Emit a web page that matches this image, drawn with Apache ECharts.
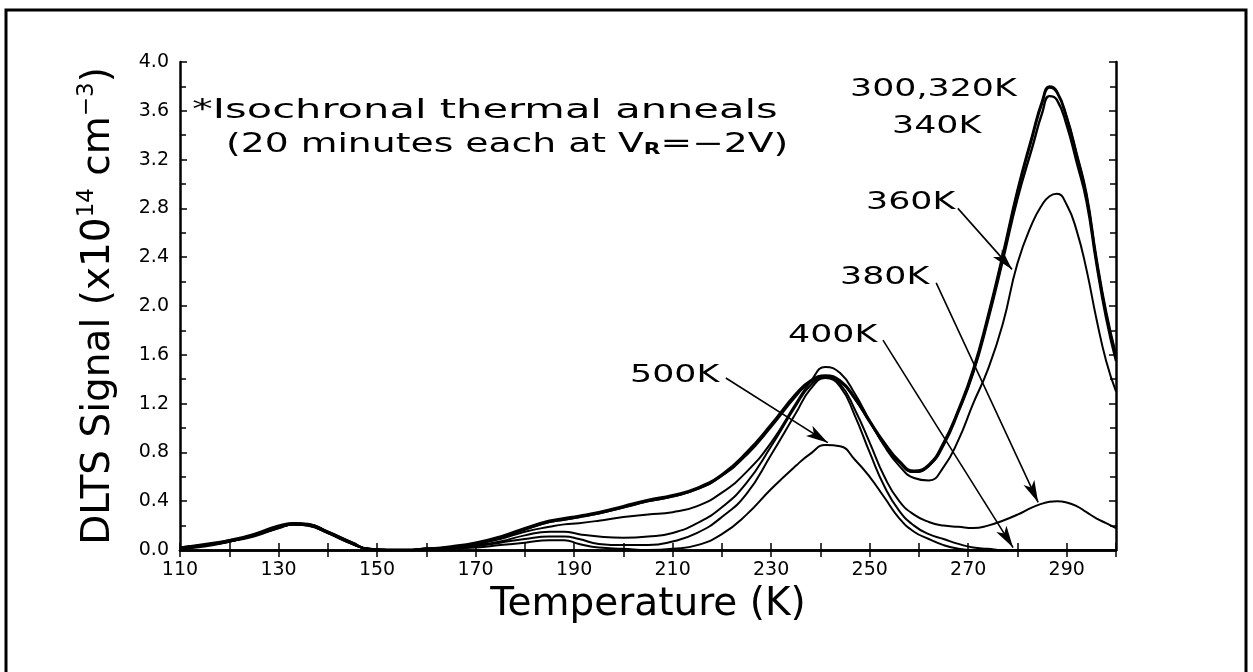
<!DOCTYPE html>
<html>
<head>
<meta charset="utf-8">
<script src="https://cdn.jsdelivr.net/npm/echarts/dist/echarts.min.js"></script>
<style>
html,body{margin:0;padding:0;background:#fff;}
#chart{width:1253px;height:672px;}
</style>
</head>
<body>
<div id="chart"></div>
<script>
// Temperature grid (K)
var temps = [110,115,120,125,130,133,136,140,145,148,152,156,160,165,
  170,175,180,185,188,191,195,200,205,210,215,220,225,230,235,238,241,244,247,250,
  253,256,259,262,265,268,271,274,277,280,283,285,286.5,288,290,292,294,296,298,300];

// DLTS signal (x10^14 cm^-3) for each anneal temperature
var s300 = [0.02,0.04,0.08,0.13,0.20,0.22,0.21,0.15,0.06,0.01,0,0,0.01,0.03,
  0.06,0.11,0.18,0.24,0.26,0.28,0.31,0.36,0.41,0.45,0.51,0.62,0.80,1.03,1.28,1.39,1.43,1.39,1.25,1.06,
  0.88,0.73,0.65,0.70,0.88,1.15,1.48,1.92,2.42,2.95,3.40,3.68,3.80,3.76,3.55,3.25,2.92,2.40,1.95,1.60];
var s320 = [0.02,0.04,0.07,0.12,0.19,0.215,0.205,0.14,0.05,0.01,0,0,0.01,0.02,
  0.05,0.10,0.17,0.23,0.25,0.27,0.30,0.35,0.40,0.44,0.50,0.61,0.79,1.02,1.27,1.38,1.42,1.38,1.24,1.05,
  0.87,0.72,0.64,0.69,0.87,1.14,1.46,1.90,2.40,2.93,3.38,3.66,3.79,3.75,3.54,3.24,2.90,2.38,1.93,1.58];
var s340 = [0.01,0.03,0.07,0.12,0.18,0.21,0.20,0.14,0.05,0.01,0,0,0.01,0.02,
  0.05,0.10,0.17,0.23,0.25,0.27,0.30,0.35,0.40,0.44,0.50,0.61,0.78,1.01,1.26,1.38,1.42,1.38,1.24,1.05,
  0.87,0.72,0.64,0.69,0.86,1.13,1.45,1.88,2.37,2.88,3.30,3.58,3.72,3.69,3.48,3.18,2.86,2.35,1.90,1.55];
var s360 = [0.02,0.04,0.07,0.11,0.18,0.21,0.21,0.15,0.06,0.01,0,0,0.01,0.02,
  0.05,0.09,0.15,0.19,0.21,0.22,0.24,0.27,0.29,0.31,0.36,0.47,0.64,0.88,1.20,1.38,1.50,1.45,1.28,1.06,
  0.85,0.69,0.59,0.57,0.68,0.90,1.20,1.48,1.85,2.35,2.68,2.83,2.90,2.92,2.83,2.62,2.30,1.90,1.55,1.30];
var s380 = [0.02,0.05,0.08,0.12,0.19,0.22,0.215,0.145,0.05,0.01,0,0,0.01,0.02,
  0.04,0.07,0.12,0.15,0.15,0.13,0.11,0.10,0.11,0.14,0.22,0.35,0.55,0.85,1.18,1.35,1.42,1.36,1.15,0.88,
  0.60,0.40,0.29,0.23,0.20,0.19,0.18,0.20,0.24,0.29,0.35,0.38,0.395,0.40,0.39,0.36,0.31,0.26,0.22,0.18];
var s400 = [0.01,0.04,0.07,0.12,0.19,0.21,0.20,0.14,0.05,0.01,0,0,0.005,0.015,
  0.03,0.06,0.09,0.11,0.11,0.09,0.05,0.04,0.04,0.07,0.14,0.27,0.46,0.78,1.12,1.32,1.41,1.34,1.10,0.80,
  0.52,0.32,0.20,0.13,0.09,0.05,0.02,0.01,0,0,0,0,0,0,0,0,0,0,0,0];
var s500 = [0.02,0.04,0.07,0.12,0.185,0.21,0.205,0.145,0.055,0.01,0,0,0.005,0.01,
  0.02,0.04,0.06,0.08,0.08,0.05,0.02,0.01,0,0.01,0.04,0.13,0.29,0.50,0.69,0.79,0.86,0.85,0.74,0.60,
  0.43,0.26,0.15,0.09,0.04,0.01,0,0,0,0,0,0,0,0,0,0,0,0,0,0];

var seriesNames = ['300K','320K','340K','360K','380K','400K','500K'];
var seriesValues = [s300,s320,s340,s360,s380,s400,s500];

// Arrow annotations: [startT, startV] -> [endT, endV]
var arrowLabels = ['360K','380K','400K','500K'];
var arrowStarts = [[267.9,2.80],[263.5,2.19],[252.7,1.72],[220.8,1.41]];
var arrowEnds   = [[278.9,2.30],[284.2,0.39],[279.1,0.02],[241.5,0.88]];

var xLabelTicks = [110,130,150,170,190,210,230,250,270,290];

var FONT = 'DejaVu Sans';
var chart = echarts.init(document.getElementById('chart'), null, {renderer:'canvas'});

var series = seriesNames.map(function(n, i){
  var s = {
    name: n, type: 'line', xAxisIndex: 0, yAxisIndex: 0,
    data: temps.map(function(t, j){ return [t, seriesValues[i][j]]; }),
    showSymbol: false, smooth: 0.5, clip: true,
    lineStyle: {color: '#000', width: (i < 3 ? 2.4 : 2)},
    silent: true, z: 3
  };
  if (i === 0) {
    s.markLine = {
      silent: true, symbol: ['none','arrow'], symbolSize: [9, 22],
      lineStyle: {color:'#000', width: 1.6, type:'solid'},
      label: {show: false},
      data: arrowStarts.map(function(st, k){
        return [{coord: st}, {coord: arrowEnds[k]}];
      })
    };
  }
  return s;
});

var tickAxisCommon = {
  axisLine: {show: true, lineStyle: {color:'#000', width: 2.5}},
  splitLine: {show: false}
};

var option = {
  animation: false,
  backgroundColor: '#fff',
  textStyle: {fontFamily: FONT, color: '#000'},
  grid: {left: 180, right: 137, top: 62, bottom: 122, containLabel: false},
  xAxis: [
    Object.assign({
      type: 'value', min: 110, max: 300, interval: 10, position: 'bottom',
      axisTick: {show: true, inside: true, length: 7, lineStyle: {color:'#000', width: 1.5}},
      axisLabel: {
        color: '#000', fontSize: 19, fontFamily: FONT, margin: 11,
        formatter: function(v){ return xLabelTicks.indexOf(v) >= 0 ? String(v) : ''; }
      },
      name: 'Temperature (K)', nameLocation: 'middle', nameGap: 32,
      nameTextStyle: {fontSize: 39, fontFamily: FONT, color: '#000'}
    }, tickAxisCommon),
    Object.assign({
      type: 'value', min: 110, max: 300, interval: 10, position: 'top',
      axisTick: {show: true, inside: true, length: 7, lineStyle: {color:'#000', width: 1.5}},
      axisLabel: {show: false}
    }, tickAxisCommon)
  ],
  yAxis: [
    Object.assign({
      type: 'value', min: 0, max: 4, interval: 0.4, position: 'left',
      axisTick: {show: true, inside: true, length: 7, lineStyle: {color:'#000', width: 1.5}},
      minorTick: {show: true, splitNumber: 2, length: 6, lineStyle: {color:'#000', width: 1.5}},
      minorSplitLine: {show: false},
      axisLabel: {
        color: '#000', fontSize: 19, fontFamily: FONT, margin: 11,
        formatter: function(v){ return v.toFixed(1); }
      },
      name: '{a|DLTS Signal (x10}{s|14}{a| cm}{s|−3}{a|)}',
      nameLocation: 'middle', nameGap: 58, nameRotate: 90,
      nameTextStyle: {
        fontFamily: FONT, color: '#000',
        rich: {
          a: {fontSize: 39, fontFamily: FONT, color:'#000', lineHeight: 46},
          s: {fontSize: 23, fontFamily: FONT, color:'#000', verticalAlign: 'top', lineHeight: 46, padding: [0,0,16,0]}
        }
      }
    }, tickAxisCommon),
    Object.assign({
      type: 'value', min: 0, max: 4, interval: 0.4, position: 'right',
      axisTick: {show: true, inside: true, length: 7, lineStyle: {color:'#000', width: 1.5}},
      minorTick: {show: true, splitNumber: 2, length: 6, lineStyle: {color:'#000', width: 1.5}},
      minorSplitLine: {show: false},
      axisLabel: {show: false}
    }, tickAxisCommon)
  ],
  series: series,
  graphic: [
    {type: 'rect', silent: true, z: 0,
     shape: {x: 6, y: 10, width: 1240, height: 700},
     style: {fill: 'none', stroke: '#000', lineWidth: 3}},
    {type: 'text', x: 192, y: 111, scaleX: 1.6, z: 10,
     style: {text: '*Isochronal thermal anneals', fontSize: 26, fontFamily: FONT,
             fill: '#000', textAlign: 'left', textVerticalAlign: 'middle'}},
    {type: 'text', x: 226, y: 145, scaleX: 1.45, z: 10,
     style: {text: '{a|(20 minutes each at V}{b|R}{a|=−2V)}', fontFamily: FONT,
             fill: '#000', textAlign: 'left', textVerticalAlign: 'middle',
             rich: {a: {fontSize: 26, fontFamily: FONT, fill:'#000'},
                    b: {fontSize: 15, fontFamily: FONT, fill:'#000', verticalAlign: 'bottom', fontWeight: 'bold'}}}},
    {type: 'text', x: 850, y: 90, scaleX: 1.45, z: 10,
     style: {text: '300,320K', fontSize: 24, fontFamily: FONT, fill: '#000', textVerticalAlign: 'middle'}},
    {type: 'text', x: 892, y: 127, scaleX: 1.45, z: 10,
     style: {text: '340K', fontSize: 24, fontFamily: FONT, fill: '#000', textVerticalAlign: 'middle'}},
    {type: 'text', x: 866, y: 203, scaleX: 1.45, z: 10,
     style: {text: arrowLabels[0], fontSize: 24, fontFamily: FONT, fill: '#000', textVerticalAlign: 'middle'}},
    {type: 'text', x: 840, y: 278, scaleX: 1.45, z: 10,
     style: {text: arrowLabels[1], fontSize: 24, fontFamily: FONT, fill: '#000', textVerticalAlign: 'middle'}},
    {type: 'text', x: 788, y: 336, scaleX: 1.45, z: 10,
     style: {text: arrowLabels[2], fontSize: 24, fontFamily: FONT, fill: '#000', textVerticalAlign: 'middle'}},
    {type: 'text', x: 630, y: 376, scaleX: 1.45, z: 10,
     style: {text: arrowLabels[3], fontSize: 24, fontFamily: FONT, fill: '#000', textVerticalAlign: 'middle'}}
  ]
};
chart.setOption(option);
</script>
</body>
</html>
